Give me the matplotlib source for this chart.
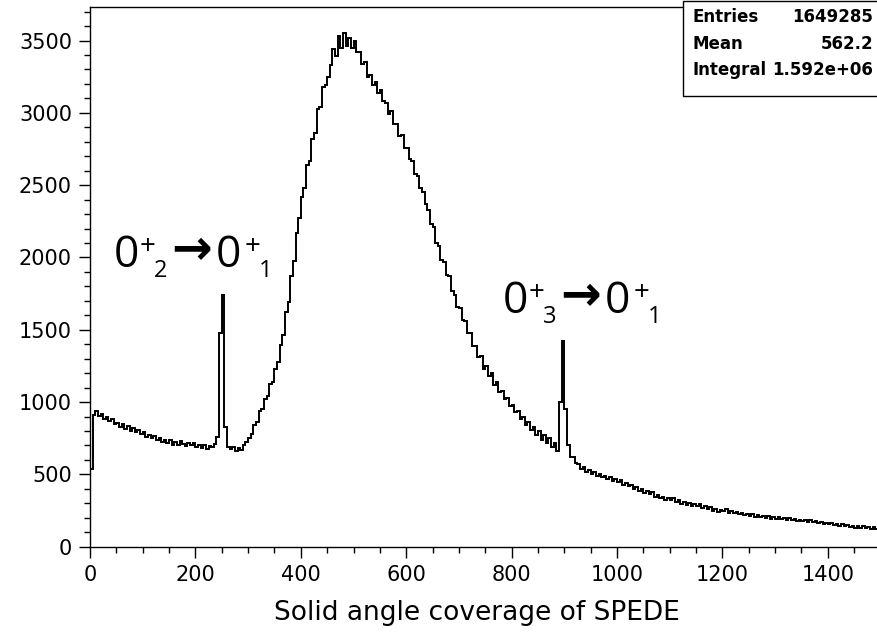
import numpy as np
import matplotlib.pyplot as plt
from matplotlib.patches import Rectangle

# Histogram: bin edges every 5 units from 0 to 1500, counts
bin_width = 5
x_min, x_max = 0, 1500
counts = [
    # 0-50
    540, 910, 935, 905, 915, 880, 895, 870, 880, 850,
    # 50-100
    855, 830, 845, 815, 835, 800, 820, 790, 805, 780,
    # 100-150
    790, 760, 775, 750, 765, 735, 755, 725, 740, 715,
    # 150-200
    735, 705, 725, 700, 730, 710, 695, 720, 700, 715,
    # 200-250
    690, 705, 680, 700, 675, 695, 690, 710, 760, 1480,
    # 250-300
    1740, 830, 690, 675, 690, 665, 680, 670, 700, 725,
    # 300-350
    755, 780, 840, 860, 935, 950, 1020, 1040, 1125, 1140,
    # 350-400
    1230, 1275, 1395, 1465, 1620, 1690, 1875, 1975, 2170, 2270,
    # 400-450
    2420, 2480, 2640, 2670, 2820, 2860, 3030, 3040, 3180, 3190,
    # 450-500
    3250, 3330, 3440, 3390, 3530, 3450, 3550, 3460, 3520, 3450,
    # 500-550
    3500, 3420, 3420, 3340, 3350, 3250, 3260, 3190, 3210, 3140,
    # 550-600
    3160, 3080, 3070, 2990, 3010, 2920, 2920, 2840, 2850, 2760,
    # 600-650
    2760, 2680, 2670, 2580, 2560, 2480, 2450, 2370, 2330, 2230,
    # 650-700
    2210, 2100, 2080, 1980, 1970, 1880, 1870, 1770, 1740, 1660,
    # 700-750
    1650, 1570, 1560, 1480, 1480, 1390, 1390, 1310, 1320, 1230,
    # 750-800
    1250, 1180, 1200, 1120, 1140, 1070, 1080, 1020, 1030, 970,
    # 800-850
    980, 930, 940, 880, 900, 840, 860, 810, 830, 770,
    # 850-900
    800, 740, 770, 720, 750, 690, 720, 665, 1000, 1425,
    # 900-950
    950, 700, 620, 620, 580, 575, 535, 550, 515, 530,
    # 950-1000
    500, 515, 490, 505, 480, 492, 468, 480, 456, 468,
    # 1000-1050
    445, 458, 430, 442, 420, 428, 400, 410, 385, 398,
    # 1050-1100
    372, 383, 362, 375, 347, 360, 334, 346, 325, 336,
    # 1100-1150
    322, 336, 308, 320, 298, 310, 290, 302, 282, 296,
    # 1150-1200
    278, 292, 268, 282, 260, 272, 250, 263, 242, 254,
    # 1200-1250
    248, 258, 236, 248, 230, 240, 224, 232, 216, 226,
    # 1250-1300
    214, 226, 206, 218, 202, 212, 198, 210, 194, 204,
    # 1300-1350
    194, 204, 189, 200, 186, 196, 182, 192, 178, 188,
    # 1350-1400
    176, 186, 172, 182, 168, 178, 162, 172, 156, 166,
    # 1400-1450
    154, 164, 148, 158, 145, 154, 140, 150, 136, 146,
    # 1450-1500
    132, 142, 130, 140, 128, 137, 125, 134, 122, 130,
]
edges = np.arange(x_min, x_max + bin_width, bin_width)

stat_names = ["Entries", "Mean", "Integral"]
stat_values = ["1649285", "562.2", "1.592e+06"]

x_label = "Solid angle coverage of SPEDE"

W, H = 877, 633


def px(x, y):
    # image pixel -> figure fraction
    return x / W, 1 - y / H


fig = plt.figure(figsize=(W / 100, H / 100), dpi=100)
ax = fig.add_axes([90 / W, (H - 546.7) / H, 790.5 / W, 540 / H])

ax.stairs(counts, edges, color="black", linewidth=1.4, baseline=None)

ax.set_xlim(x_min, x_max)
ax.set_ylim(0, 3734)

# Ticks
ax.set_xticks(np.arange(0, 1401, 200))
ax.set_xticks(np.arange(0, 1501, 50), minor=True)
ax.set_yticks(np.arange(0, 3501, 500))
ax.set_yticks(np.arange(0, 3701, 100), minor=True)
ax.tick_params(axis="both", which="major", direction="out", length=8, width=1,
               labelsize=15, pad=5)
ax.tick_params(axis="both", which="minor", direction="out", length=4, width=1)
ax.tick_params(top=False, right=False)

for s in ax.spines.values():
    s.set_linewidth(1.0)
    s.set_color("black")

ax.set_xlabel(x_label, fontsize=19)
ax.xaxis.set_label_coords(0.49, -0.123)
ax.xaxis.label.set_va("center")

# Stats box (cut off at the right edge like the original)
box = Rectangle(px(683, 96), 300 / W, 95 / H, transform=fig.transFigure,
                facecolor="white", edgecolor="black", linewidth=1.0, zorder=5)
fig.patches.append(box)
for name, val, yy in zip(stat_names, stat_values, [17, 44, 70]):
    fig.text(*px(693, yy), name, fontsize=12, fontweight="bold", va="center",
             ha="left", zorder=6)
    fig.text(*px(873, yy), val, fontsize=12, fontweight="bold", va="center",
             ha="right", zorder=6)


# Peak labels: 0+_n -> 0+_1
def peak_label(x0, y0, n):
    big = dict(family="Open Sans", fontsize=32, va="baseline", ha="left")
    small = dict(family="Open Sans", fontsize=17, va="baseline", ha="left")
    fig.text(*px(x0, y0), "0", **big)
    fig.text(*px(x0 + 26, y0 - 13), "+", family="Open Sans", fontsize=20,
             va="baseline", ha="left")
    fig.text(*px(x0 + 40, y0 + 10), n, **small)
    fig.text(*px(x0 + 57, y0 - 3), "\u2192", family="DejaVu Sans",
             fontweight="bold", fontsize=35, va="baseline", ha="left")
    fig.text(*px(x0 + 102, y0), "0", **big)
    fig.text(*px(x0 + 131, y0 - 13), "+", family="Open Sans", fontsize=20,
             va="baseline", ha="left")
    fig.text(*px(x0 + 145, y0 + 10), "1", **small)


peak_label(114, 267, "2")
peak_label(503, 313, "3")

plt.savefig("out.png", dpi=100)
